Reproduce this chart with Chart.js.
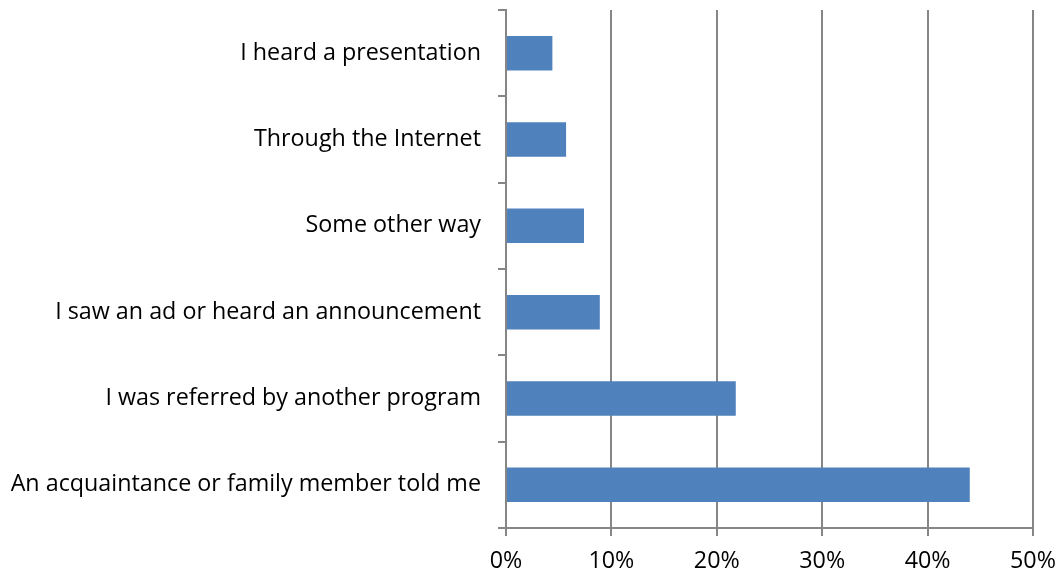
<!DOCTYPE html>
<html>
<head>
<meta charset="utf-8">
<script src="https://cdn.jsdelivr.net/npm/chart.js@4/dist/chart.umd.min.js"></script>
<style>
  html, body { margin: 0; padding: 0; background: #fff; }
  #wrap { width: 1060px; height: 582px; position: relative; }
</style>
</head>
<body>
<div id="wrap"><canvas id="myChart"></canvas></div>
<script>
// How people heard about the program (share of responses, %)
const sources = [
  "I heard a presentation",
  "Through the Internet",
  "Some other way",
  "I saw an ad or heard an announcement",
  "I was referred by another program",
  "An acquaintance or family member told me"
];
const shares = [4.4, 5.7, 7.4, 8.9, 21.8, 44.0];
const pctTicks = [0, 10, 20, 30, 40, 50];

const axisGrey = "#868686";
const labelFont = { family: "'Open Sans', 'Noto Sans', sans-serif", size: 23.3 };

let ctx = document.getElementById("myChart");

let myChart = new Chart(ctx, {
  type: "bar",
  data: {
    labels: sources,
    datasets: [{
      data: shares,
      backgroundColor: "#4F81BD",
      borderWidth: 0,
      categoryPercentage: 1,
      barPercentage: 0.4
    }]
  },
  options: {
    indexAxis: "y",
    responsive: true,
    maintainAspectRatio: false,
    animation: false,
    layout: { padding: { top: 10, right: 27, left: 0, bottom: 0 } },
    plugins: {
      legend: { display: false },
      tooltip: { enabled: false }
    },
    scales: {
      x: {
        min: 0,
        max: 50,
        afterBuildTicks: axis => {
          axis.ticks = pctTicks.map(v => ({ value: v }));
        },
        afterFit: axis => {
          axis.height = 54;
          axis.paddingLeft = 0;
          axis.paddingRight = 0;
        },
        border: { color: axisGrey, width: 2 },
        grid: { color: axisGrey, lineWidth: 2, tickLength: 8 },
        ticks: {
          color: "#000",
          font: labelFont,
          padding: 11,
          maxRotation: 0,
          callback: v => v + "%"
        }
      },
      y: {
        afterFit: axis => {
          axis.width = 506;
          // labels sit mid-band, so no extra room above/below is needed
          axis.paddingTop = 0;
          axis.paddingBottom = 0;
        },
        border: { color: axisGrey, width: 2 },
        grid: {
          offset: true,
          drawOnChartArea: false,
          color: axisGrey,
          lineWidth: 2,
          tickLength: 8
        },
        ticks: {
          color: "#000",
          font: labelFont,
          padding: 17
        }
      }
    }
  }
});
</script>
</body>
</html>
